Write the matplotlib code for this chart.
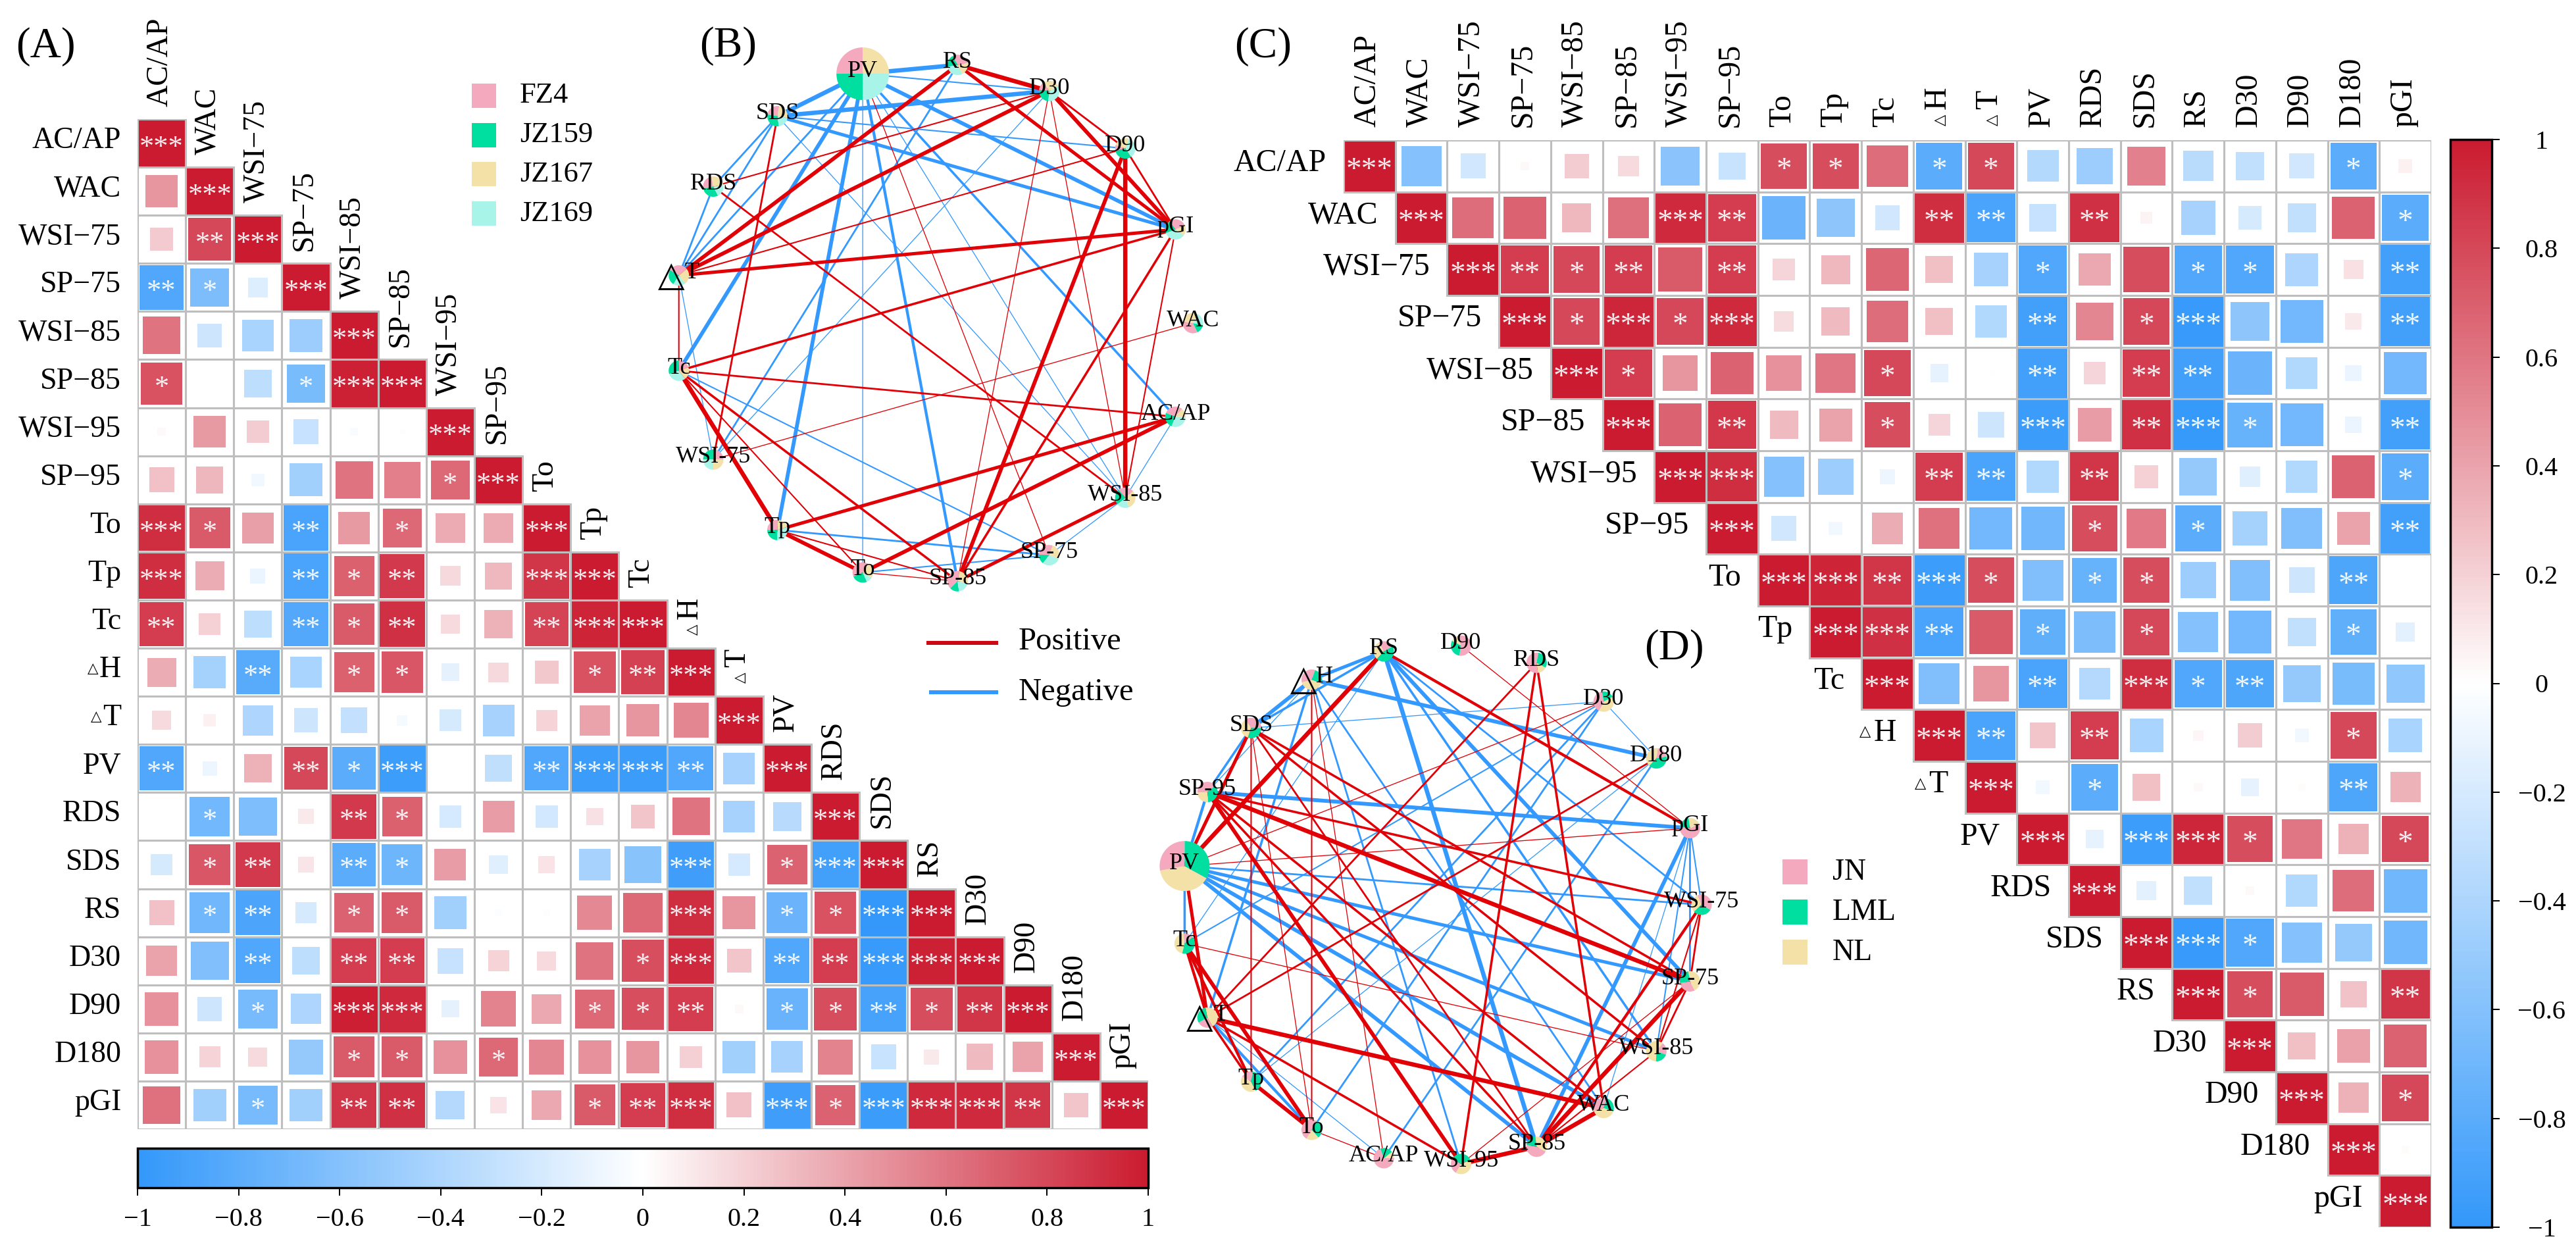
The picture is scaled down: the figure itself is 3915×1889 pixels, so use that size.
import numpy as np
import matplotlib
matplotlib.use("Agg")
import matplotlib.pyplot as plt
from matplotlib.patches import Rectangle
from matplotlib.colors import LinearSegmentedColormap, Normalize
from matplotlib.cm import ScalarMappable

W = 3915
H = 1889
plt.rcParams['font.family'] = ['Liberation Serif', 'DejaVu Sans']
plt.rcParams['axes.unicode_minus'] = False

names = ["AC/AP", "WAC", "WSI−75", "SP−75", "WSI−85", "SP−85", "WSI−95", "SP−95", "To", "Tp", "Tc",
         "△H", "△T", "PV", "RDS", "SDS", "RS", "D30", "D90", "D180", "pGI"]

# panel A, lower triangle, row by row
a_r = [
    [1],
    [.46, 1],
    [.23, .8, 1],
    [-.85, -.64, -.17, 1],
    [.61, -.25, -.42, -.48, 1],
    [.75, 0, -.32, -.65, .97, 1],
    [.03, .44, .22, -.28, -.03, .01, 1],
    [.27, .32, -.07, -.46, .61, .56, .66, 1],
    [.92, .72, .42, -.88, .44, .66, .37, .37, 1],
    [.92, .36, -.1, -.88, .69, .86, .17, .31, .88, 1],
    [.85, .2, -.32, -.84, .72, .9, .16, .34, .82, .96, 1],
    [.36, -.44, -.82, -.42, .69, .74, -.13, .17, .24, .75, .83, 1],
    [.16, .07, -.4, -.25, -.29, -.05, -.2, -.43, .19, .4, .46, .53, 1],
    [-.85, -.09, .34, .8, -.8, -.95, 0, -.31, -.85, -.96, -.96, -.85, -.43, 1],
    [0, -.69, -.63, .1, .86, .69, -.21, .43, -.22, .13, .25, .61, -.43, -.35, 1],
    [-.2, .74, .86, .11, -.8, -.71, .43, -.15, .12, -.43, -.58, -.93, -.21, .68, -.92, 1],
    [.27, -.7, -.87, -.2, .68, .72, -.46, -.02, -.02, .52, .66, .92, .46, -.72, .75, -1, 1],
    [.4, -.62, -.85, -.32, .85, .85, -.28, .19, .16, .61, .77, .93, .25, -.85, .85, -.97, .97, 1],
    [.48, -.25, -.66, -.4, .98, .93, -.13, .54, .38, .66, .77, .85, .03, -.74, .78, -.9, .78, .88, 1],
    [.48, .19, .16, -.52, .72, .72, .48, .66, .53, .48, .46, .21, -.46, -.43, .54, -.27, .1, .3, .4, 1],
    [.62, -.46, -.66, -.46, .88, .9, -.36, .12, .38, .72, .85, .92, .27, -.93, .68, -.96, .93, .93, .88, .25, 1],
]
a_stars = ["3", "03", "023", "2103", "00003", "100133", "0000003", "00000013", "310201003", "3002120033",
           "20021200233", "002011000123", "0000000000003", "20021300233203", "010021000000003",
           "0120210000030133", "01201100000301133", "002022000013022333", "0010330001120112123",
           "00001101000000000003", "001022000123031333203"]

# panel C, upper triangle, each row starts on the diagonal
c_r = [
    [1, -.6, -.23, .03, .22, .16, -.57, -.27, .78, .78, .64, -.8, .8, -.37, -.48, .55, -.34, -.3, -.23, -.8, .07],
    [1, .64, .68, .31, .63, .93, .85, -.72, -.55, -.23, .92, -.88, -.28, .9, .05, -.43, -.2, -.3, .68, -.8],
    [1, .85, .8, .85, .72, .85, .18, .31, .67, .28, -.43, -.85, .38, .78, -.85, -.85, -.4, .14, -.92],
    [1, .8, .95, .8, .93, .15, .3, .64, .28, -.38, -.92, .53, .8, -.97, -.55, -.68, .1, -.92],
    [1, .85, .46, .68, .48, .6, .8, -.12, -.01, -.92, .18, .85, -.92, -.72, -.38, -.1, -.68],
    [1, .68, .87, .3, .4, .78, .18, -.25, -.96, .43, .9, -.98, -.75, -.68, -.1, -.92],
    [1, .92, -.6, -.48, -.09, .85, -.88, -.38, .88, .2, -.52, -.15, -.38, .68, -.8],
    [1, -.23, -.07, .36, .62, -.68, -.7, .78, .58, -.8, -.44, -.62, .4, -.92],
    [1, .96, .88, -.95, .78, -.62, -.75, .78, -.48, -.62, -.25, -.86, 0],
    [1, .9, -.88, .72, -.78, -.64, .8, -.6, -.68, -.3, -.78, -.14],
    [1, -.62, .46, -.88, -.36, .92, -.85, -.86, -.52, -.65, -.54],
    [1, -.88, .25, .85, -.42, .04, .22, -.07, .8, -.42],
    [1, -.07, -.8, .28, .03, -.12, .02, -.86, .34],
    [1, -.12, -.95, .95, .78, .6, .34, .8],
    [1, -.14, -.3, .03, -.38, .64, -.7],
    [1, -.97, -.85, -.6, -.52, -.7],
    [1, .78, .72, .26, .88],
    [1, .28, .41, .68],
    [1, .34, .8],
    [1, .02],
    [1],
]
c_stars = ["300000001101100000010", "30000320002202000001", "3212020000010011002", "313130000020130002",
           "31000010020220000", "3020010030231002", "330002202000001", "30000001010002", "3323101100020",
           "332010100010", "30020312000", "3202000010", "301000020", "30331001", "3000000", "331000",
           "31002", "3000", "301", "30", "3"]

# panel B network, clockwise from PV
b_nodes = ["PV", "RS", "D30", "D90", "pGI", "WAC", "AC/AP", "WSI-85", "SP-75", "SP-85", "To", "Tp", "WSI-75",
           "Tc", "△T", "RDS", "SDS"]
b_groups = ["FZ4", "JZ159", "JZ169", "JZ167"]
b_pie = [[.25, .25, .25, .25], [.3, .2, .3, .2], [.15, .25, .35, .25], [.1, .3, .35, .25], [.3, .2, .35, .15],
         [.35, .15, .2, .3], [.3, .25, .3, .15], [.25, .25, .2, .3], [.3, .15, .3, .25], [.4, .15, .2, .25],
         [.4, .25, .1, .25], [.25, .25, .3, .2], [.2, .3, .25, .25], [.2, .3, .3, .2], [.3, .25, .2, .25],
         [.25, .3, .2, .25], [.25, .3, .2, .25]]
b_start = [90, 10, 120, 160, 20, 170, 50, 40, 70, 80, 60, 90, 0, 20, 40, 100, 80]
b_neg = [("PV", "SDS", .9), ("PV", "RS", .9), ("PV", "D30", .6), ("PV", "Tc", .85), ("PV", "△T", .65),
         ("PV", "Tp", .85), ("PV", "To", .55), ("PV", "SP-85", .75), ("PV", "WSI-85", .55), ("PV", "AC/AP", .7),
         ("PV", "pGI", .85), ("SDS", "D30", .9), ("SDS", "D90", .6), ("SDS", "pGI", .8), ("SDS", "RDS", .65),
         ("SDS", "△T", .65), ("RDS", "△T", .65), ("SDS", "WSI-85", .55), ("RS", "WSI-75", .65),
         ("D30", "WSI-75", .55), ("△T", "WSI-75", .55), ("Tc", "SP-75", .6), ("Tp", "SP-75", .65),
         ("To", "SP-75", .6), ("AC/AP", "WSI-85", .55), ("SP-75", "WSI-85", .55)]
b_pos = [("SDS", "WSI-75", .65), ("RS", "△T", .85), ("D30", "△T", .85), ("RDS", "D30", .6), ("RS", "D30", .9),
         ("RS", "pGI", .8), ("△T", "D90", .6), ("△T", "pGI", .8), ("Tc", "pGI", .7), ("Tc", "△T", .6),
         ("WSI-75", "WAC", .55), ("RDS", "WSI-85", .65), ("Tc", "Tp", .9), ("Tc", "To", .6), ("Tc", "SP-85", .7),
         ("Tc", "AC/AP", .65), ("D30", "SP-85", .55), ("D30", "WSI-85", .55), ("D30", "D90", .65),
         ("D30", "pGI", .85), ("D90", "pGI", .65), ("D90", "WSI-85", .9), ("D90", "SP-85", .85),
         ("pGI", "WSI-85", .6), ("pGI", "SP-85", .7), ("PV", "SP-75", .55), ("To", "AC/AP", .85),
         ("Tp", "AC/AP", .8), ("Tp", "SP-85", .6), ("Tp", "To", .85), ("SP-85", "WSI-85", .8), ("To", "SP-85", .55)]

# panel D network, clockwise from PV
d_nodes = ["PV", "SP-95", "SDS", "△H", "RS", "D90", "RDS", "D30", "D180", "pGI", "WSI-75", "SP-75", "WSI-85",
           "WAC", "SP-85", "WSI-95", "AC/AP", "To", "Tp", "△T", "Tc"]
d_groups = ["JN", "NL", "LML"]
d_pie = [[.28, .39, .33], [.4, .25, .35], [.35, .35, .3], [.35, .4, .25], [.25, .3, .45], [.6, .1, .3],
         [.55, .15, .3], [.4, .4, .2], [.2, .4, .4], [.6, .2, .2], [.4, .3, .3], [.3, .45, .25],
         [.2, .6, .2], [.35, .4, .25], [.45, .35, .2], [.25, .4, .35], [.7, .1, .2], [.5, .2, .3],
         [.2, .4, .4], [.25, .45, .3], [.15, .45, .4]]
d_start = [90, 40, 0, 70, 30, 260, 80, 100, 10, 170, 330, 190, 340, 70, 170, 150, 110, 60, 80, 210, 40]
d_neg = [("RS", "△H", .8), ("RS", "SDS", .7), ("△H", "SDS", .85), ("△H", "SP-95", .55), ("SP-95", "PV", .75),
         ("SDS", "SP-95", .7), ("△H", "△T", .7), ("△H", "WSI-95", .65), ("△H", "D180", .85), ("RS", "SP-85", .9),
         ("RS", "WSI-85", .7), ("RS", "WSI-75", .65), ("RS", "SP-75", .85), ("SDS", "D30", .55), ("PV", "WSI-75", .65),
         ("PV", "SP-75", .8), ("PV", "WSI-85", .8), ("PV", "WAC", .85), ("PV", "SP-85", .85), ("PV", "Tc", .7),
         ("Tc", "D30", .6), ("Tc", "RS", .55), ("Tp", "D180", .55), ("To", "D30", .65), ("To", "△T", .75),
         ("△T", "AC/AP", .55), ("AC/AP", "D180", .65), ("Tp", "D30", .65), ("D30", "D180", .55), ("SP-95", "pGI", .85),
         ("pGI", "WSI-75", .6), ("pGI", "SP-75", .65), ("pGI", "WSI-85", .6), ("pGI", "WAC", .55), ("pGI", "SP-85", .85),
         ("△H", "WAC", .65)]
d_pos = [("PV", "RS", .9), ("SDS", "PV", .8), ("SDS", "Tp", .6), ("SDS", "To", .55), ("SDS", "WSI-85", .7),
         ("SDS", "SP-75", .7), ("SDS", "SP-85", .65), ("SP-95", "SP-75", .9), ("SP-95", "WSI-75", .7),
         ("SP-95", "WSI-95", .85), ("SP-95", "WAC", .7), ("SP-95", "SP-85", .7), ("△H", "To", .6), ("△H", "AC/AP", .55),
         ("RS", "pGI", .75), ("PV", "pGI", .55), ("PV", "D30", .55), ("Tc", "WSI-85", .55), ("Tc", "To", .85),
         ("Tc", "Tp", .75), ("Tc", "△T", .75), ("PV", "△T", .8), ("△T", "WAC", .9), ("△T", "WSI-95", .7),
         ("△T", "D180", .65), ("△T", "RDS", .65), ("△T", "Tp", .7), ("Tp", "To", .85), ("To", "AC/AP", .55),
         ("WSI-95", "RDS", .7), ("WSI-95", "SP-75", .55), ("WSI-95", "SP-85", .9), ("RDS", "WAC", .7), ("SP-85", "WAC", .9),
         ("SP-85", "SP-75", .9), ("SP-85", "WSI-75", .75), ("SP-85", "WSI-85", .6), ("SP-75", "WSI-75", .65),
         ("SP-75", "WSI-85", .65), ("WSI-85", "WSI-75", .6), ("D90", "pGI", .55)]

cbar_ticks = [-1, -.8, -.6, -.4, -.2, 0, .2, .4, .6, .8, 1]
cbar_labels = ["−1", "−0.8", "−0.6", "−0.4", "−0.2", "0", "0.2", "0.4", "0.6", "0.8", "1"]

px = 0.72  # points per pixel at dpi 100
cmap = LinearSegmentedColormap.from_list("rw", ["#3398FA", "#FFFFFF", "#CB1B30"])
norm = Normalize(-1, 1)
GRID = "#BEBEBE"
COL = {"FZ4": "#F4A9BE", "JZ159": "#00DFA0", "JZ167": "#F3E1A8", "JZ169": "#A9F4E8",
       "JN": "#F4A9BE", "LML": "#00DFA0", "NL": "#F3E1A8"}

fig = plt.figure(figsize=(W / 100, H / 100), dpi=100)


def box(l, t, r, b):
    return fig.add_axes([l / W, 1 - b / H, (r - l) / W, (b - t) / H])


over = box(0, 0, W, H)
over.set_xlim(0, W)
over.set_ylim(H, 0)
over.axis("off")
over.set_zorder(10)
over.patch.set_alpha(0)


def cell(ax, i, j, r, n, star_fs):
    s = np.sqrt(abs(r))
    ax.add_patch(Rectangle((j + .5 - s / 2, i + .5 - s / 2), s, s, fc=cmap(norm(r)), ec="none", zorder=1))
    ax.add_patch(Rectangle((j, i), 1, 1, fc="none", ec=GRID, lw=2.2, zorder=2))
    if n > 0:
        ax.text(j + .5, i + .6, "*" * n, color="white", ha="center", va="center", fontsize=star_fs,
                family="Liberation Serif", zorder=3, alpha=.92)


def label(ax, x, y, t, fs, ha, va, rot=0):
    if t[0] == "△":
        # small triangle beside the letter
        f = fs * .47
        if rot == 0:
            w = ax.text(x, y, t[1], fontsize=fs, ha=ha, va=va)
            d = (.722 if t[1] == "H" else .611) * fs / px / 73
            ax.text(x - d - .02, y - .03, "△", fontsize=f, ha="right", va="center", family="DejaVu Sans")
        else:
            ax.text(x, y - .34, t[1], fontsize=fs, ha=ha, va=va, rotation=90)
            ax.text(x + .05, y - .02, "△", fontsize=f, ha="center", va="bottom", rotation=90, family="DejaVu Sans")
    else:
        ax.text(x, y, t, fontsize=fs, ha=ha, va=va, rotation=rot)


# panel A
ax = box(209, 181, 1745, 1716)
ax.set_xlim(0, 21)
ax.set_ylim(21, 0)
ax.axis("off")
for i in range(21):
    for j in range(i + 1):
        cell(ax, i, j, a_r[i][j], int(a_stars[i][j]), 32)
    label(ax, -.34, i + .45, names[i], 33, "right", "center")
    label(ax, i + .47, i - .26, names[i], 33, "center", "bottom", 90)

# panel C
ax = box(2042, 213, 3695, 1865)
ax.set_xlim(0, 21)
ax.set_ylim(21, 0)
ax.axis("off")
for i in range(21):
    for k, r in enumerate(c_r[i]):
        cell(ax, i, i + k, r, int(c_stars[i][k]), 34)
    label(ax, i - .33, i + .45, names[i], 34.5, "right", "center")
    label(ax, i + .47, -.26, names[i], 34.5, "center", "bottom", 90)

# colour bars
cax = box(209, 1745, 1745, 1805)
cb = fig.colorbar(ScalarMappable(norm=norm, cmap=cmap), cax=cax, orientation="horizontal", ticks=cbar_ticks)
cb.ax.set_xticklabels(cbar_labels)
cb.ax.tick_params(length=12 * px, width=2 * px, labelsize=29, pad=18 * px)
cb.outline.set_linewidth(2.5)

cax = box(3724, 212, 3787, 1865)
cb = fig.colorbar(ScalarMappable(norm=norm, cmap=cmap), cax=cax, orientation="vertical", ticks=cbar_ticks)
cb.ax.set_yticklabels(cbar_labels)
cb.ax.tick_params(length=12 * px, width=2 * px, labelsize=29, pad=64 * px)
cb.outline.set_linewidth(2.5)
for t in cb.ax.get_yticklabels():
    t.set_ha("center")


# networks on a unit circle
def network(nodes, pos, neg, groups, shares, starts, cx, cy, R, a0, big):
    lim = 1.25
    ax = box(cx - lim * R, cy - lim * R, cx + lim * R, cy + lim * R)
    n = len(nodes)
    ang = np.deg2rad(a0 - 360 / n * np.arange(n))
    xy = {t: (np.cos(a), np.sin(a)) for t, a in zip(nodes, ang)}
    for edges, c in ((neg, "#3399FF"), (pos, "#E00006")):
        for p, q, w in edges:
            ax.plot([xy[p][0], xy[q][0]], [xy[p][1], xy[q][1]], color=c, lw=(1.3 + (w - .55) * 15) * px,
                    solid_capstyle="butt", zorder=1)
    for t, sh, st in zip(nodes, shares, starts):
        rad = (big if t == "PV" else 15.5) / R
        ax.pie(sh, center=xy[t], radius=rad, colors=[COL[g] for g in groups], startangle=st,
               wedgeprops={"lw": 0, "zorder": 3})
    for t in nodes:
        x, y = xy[t]
        dy = 4 / R
        if t[0] == "△":
            ax.text(x - 12 / R, y, "△", fontsize=38, ha="center", va="center", zorder=4, family="DejaVu Sans")
            ax.text(x + 20 / R, y + dy, t[1], fontsize=26, ha="center", va="center", zorder=4)
        else:
            ax.text(x, y + dy, t, fontsize=26, ha="center", va="center", zorder=4)
    ax.set_xlim(-lim, lim)
    ax.set_ylim(-lim, lim)
    ax.set_aspect("equal")
    ax.axis("off")
    ax.patch.set_alpha(0)


network(b_nodes, b_pos, b_neg, b_groups, b_pie, b_start, 1419, 491, 394, 105.88, 40)
network(d_nodes, d_pos, d_neg, d_groups, d_pie, d_start, 2191, 1375, 395, 171.43, 38)

# panel letters
for t, x, y in (("(A)", 69, 71), ("(B)", 1107, 70), ("(C)", 1920, 71), ("(D)", 2544, 986)):
    over.text(x, y, t, fontsize=47, ha="center", va="center")

# legends
for g, t, b in (("FZ4", 127, 164), ("JZ159", 187, 224), ("JZ167", 246, 283), ("JZ169", 306, 343)):
    over.add_patch(Rectangle((717, t), 37, b - t, fc=COL[g], ec="none"))
    over.text(790, (t + b) / 2, g, fontsize=32, ha="left", va="center")
for g, t in (("JN", 1306), ("LML", 1367), ("NL", 1428)):
    over.add_patch(Rectangle((2709, t), 38, 38, fc=COL[g], ec="none"))
    over.text(2785, t + 20, g, fontsize=33, ha="left", va="center")
over.plot([1408, 1517], [977, 977], color="#CC0A14", lw=6 * px, solid_capstyle="butt")
over.plot([1412, 1517], [1052, 1052], color="#3399FF", lw=6 * px, solid_capstyle="butt")
over.text(1548, 975, "Positive", fontsize=35, ha="left", va="center")
over.text(1548, 1052, "Negative", fontsize=35, ha="left", va="center")

fig.savefig("out.png", dpi=100)
